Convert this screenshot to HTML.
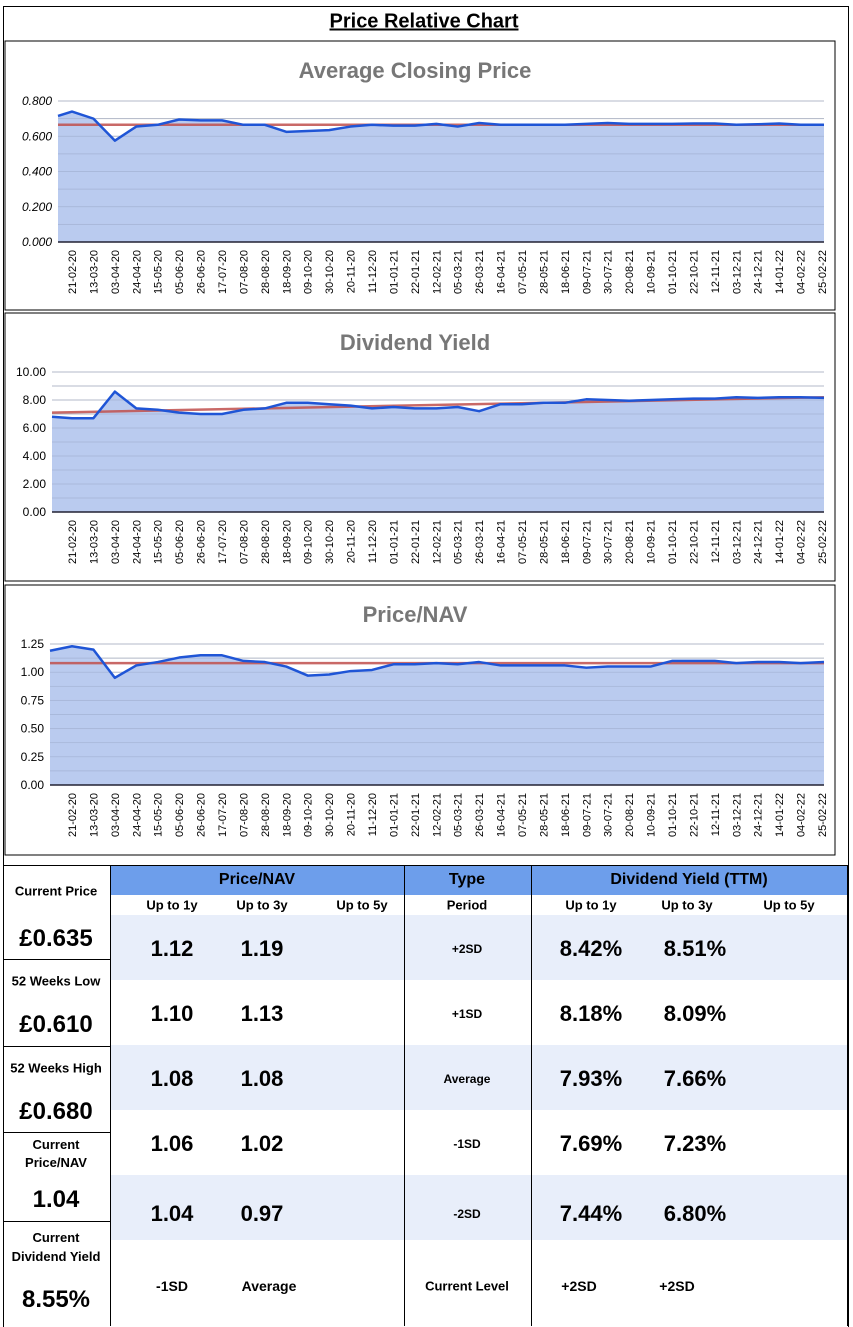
<!DOCTYPE html>
<html><head><meta charset="utf-8">
<style>
body{margin:0;width:853px;height:1327px;position:relative;background:#fff;font-family:"Liberation Sans",sans-serif;overflow:hidden}
.a{position:absolute}
.t{position:absolute;font-weight:bold;color:#000;text-align:center;transform:translate(-50%,-50%);white-space:nowrap}
</style></head><body>
<div class="a" style="left:3px;top:6px;width:844px;height:1320px;border:1px solid #000;border-bottom:none"></div>
<div class="t" style="left:424px;top:22px;font-size:20px;text-decoration:underline">Price Relative Chart</div>
<svg id="charts" class="a" style="left:0;top:0" width="853" height="860"></svg>

<div class="a" style="left:110px;top:866px;width:738px;height:29px;background:#6d9eeb"></div>
<div class="a" style="left:110px;top:915px;width:738px;height:65px;background:#e8eefa"></div>
<div class="a" style="left:110px;top:1045px;width:738px;height:65px;background:#e8eefa"></div>
<div class="a" style="left:110px;top:1175px;width:738px;height:65px;background:#e8eefa"></div>
<div class="a" style="left:3px;top:865px;width:846px;border-top:1px solid #000"></div>
<div class="a" style="left:110px;top:865px;height:461px;border-left:1px solid #000"></div>
<div class="a" style="left:404px;top:865px;height:461px;border-left:1px solid #000"></div>
<div class="a" style="left:531px;top:865px;height:461px;border-left:1px solid #000"></div>
<div class="a" style="left:847px;top:865px;height:461px;border-left:1px solid #000"></div>
<div class="a" style="left:3px;top:959px;width:108px;border-top:1px solid #000"></div>
<div class="a" style="left:3px;top:1046px;width:108px;border-top:1px solid #000"></div>
<div class="a" style="left:3px;top:1132px;width:108px;border-top:1px solid #000"></div>
<div class="a" style="left:3px;top:1221px;width:108px;border-top:1px solid #000"></div>

<div class="t" style="left:56px;top:891px;font-size:13px">Current Price</div>
<div class="t" style="left:56px;top:939px;font-size:24px">£0.635</div>
<div class="t" style="left:56px;top:981px;font-size:13px">52 Weeks Low</div>
<div class="t" style="left:56px;top:1025px;font-size:24px">£0.610</div>
<div class="t" style="left:56px;top:1068px;font-size:13px">52 Weeks High</div>
<div class="t" style="left:56px;top:1112px;font-size:24px">£0.680</div>
<div class="t" style="left:56px;top:1154px;font-size:13px;line-height:18px">Current<br>Price/NAV</div>
<div class="t" style="left:56px;top:1200px;font-size:24px">1.04</div>
<div class="t" style="left:56px;top:1247px;font-size:13px;line-height:19px">Current<br>Dividend Yield</div>
<div class="t" style="left:56px;top:1300px;font-size:24px">8.55%</div>

<div class="t" style="left:257px;top:880px;font-size:16px">Price/NAV</div>
<div class="t" style="left:467px;top:880px;font-size:16px">Type</div>
<div class="t" style="left:689px;top:880px;font-size:16px">Dividend Yield (TTM)</div>
<div id="tbl"></div>
<script>
// ---- chart data ----
const dateLabels=["21-02-20","13-03-20","03-04-20","24-04-20","15-05-20","05-06-20","26-06-20","17-07-20","07-08-20","28-08-20","18-09-20","09-10-20","30-10-20","20-11-20","11-12-20","01-01-21","22-01-21","12-02-21","05-03-21","26-03-21","16-04-21","07-05-21","28-05-21","18-06-21","09-07-21","30-07-21","20-08-21","10-09-21","01-10-21","22-10-21","12-11-21","03-12-21","24-12-21","14-01-22","04-02-22","25-02-22"];
const priceValues=[0.715,0.74,0.70,0.575,0.655,0.665,0.695,0.69,0.69,0.665,0.665,0.625,0.63,0.635,0.655,0.665,0.66,0.66,0.67,0.655,0.675,0.665,0.665,0.665,0.665,0.67,0.675,0.67,0.67,0.67,0.672,0.672,0.665,0.668,0.672,0.665,0.665];
const priceAvg=[0.665,0.665];
const priceTicks=[0,0.2,0.4,0.6,0.8];
const yieldValues=[6.8,6.7,6.7,8.6,7.4,7.3,7.1,7.0,7.0,7.3,7.4,7.8,7.8,7.7,7.6,7.4,7.5,7.4,7.4,7.5,7.2,7.7,7.7,7.8,7.8,8.05,8.0,7.95,8.0,8.05,8.1,8.1,8.2,8.15,8.2,8.2,8.15];
const yieldTrend=[7.1,8.2];
const yieldTicks=[0,2,4,6,8,10];
const pnavValues=[1.19,1.23,1.2,0.95,1.06,1.09,1.13,1.15,1.15,1.1,1.09,1.05,0.97,0.98,1.01,1.02,1.07,1.07,1.08,1.07,1.09,1.06,1.06,1.06,1.06,1.04,1.05,1.05,1.05,1.1,1.1,1.1,1.08,1.09,1.09,1.08,1.09];
const pnavAvg=[1.08,1.08];
const pnavTicks=[0,0.25,0.5,0.75,1.0,1.25];

const svg=document.getElementById('charts');
const NS='http://www.w3.org/2000/svg';
function mk(tag,attrs,parent){const e=document.createElementNS(NS,tag);for(const k in attrs)e.setAttribute(k,attrs[k]);(parent||svg).appendChild(e);return e;}
function drawChart(cfg){
  const g=mk('g',{});
  
  
  const box=mk('rect',{x:cfg.bx,y:cfg.by,width:cfg.bw,height:cfg.bh,fill:'#fff',stroke:'#000','stroke-width':1},g);
  
  
  const title=mk('text',{x:cfg.bx+cfg.bw/2-5,y:cfg.by+37,'text-anchor':'middle','font-size':22,'font-weight':'bold',fill:'#777'},g);
  title.textContent=cfg.title;
  
  
  const max=cfg.ticks[cfg.ticks.length-1];
  const yOf=v=>cfg.bottom-(v/max)*(cfg.bottom-cfg.top);
  const step=(822-72)/(dateLabels.length-1);
  const xOf=i=>Math.max(cfg.left,72+(i-1)*step-(i==0?0:0));
  // minor grid
  const mstep=(cfg.ticks[1]-cfg.ticks[0])/2;
  for(let v=0;v<=max+1e-9;v+=mstep){
    const l=mk('line',{x1:cfg.left,x2:824,y1:yOf(v),y2:yOf(v),stroke:'#c8c8c8','stroke-width':1},g);
    
    
  }
  cfg.ticks.forEach(v=>{
    const t=mk('text',{x:cfg.left-6,y:yOf(v)+4,'text-anchor':'end','font-size':12,'font-style':cfg.italic?'italic':'normal',fill:'#000'},g);
    t.textContent=v.toFixed(cfg.dec);
    
    
  });
  const vals=cfg.values;
  const xs=vals.map((v,i)=>i==0?cfg.left:72+(i-1)*step);
  xs[xs.length-1]=824;
  let pts=vals.map((v,i)=>xs[i]+','+yOf(v)).join(' ');
  const area=mk('polygon',{points:cfg.left+','+yOf(0)+' '+pts+' 824,'+yOf(0),fill:'#b4c7ee',opacity:0.92},g);
  
  
  for(let v=0;v<=max+1e-9;v+=mstep){
    mk('line',{x1:cfg.left,x2:824,y1:yOf(v),y2:yOf(v),stroke:'#9aa8c8','stroke-width':0.7,opacity:0.6},g);
  }
  const avg=mk('line',{x1:cfg.left,x2:824,y1:yOf(cfg.avg[0]),y2:yOf(cfg.avg[1]),stroke:'#c0504d','stroke-width':2.5,opacity:0.85},g);
  
  
  const line=mk('polyline',{points:pts,fill:'none',stroke:'#1f55d6','stroke-width':2.5,'stroke-linejoin':'round'},g);
  
  
  mk('line',{x1:cfg.left,x2:824,y1:yOf(0),y2:yOf(0),stroke:'#223','stroke-width':1.5},g);
  dateLabels.forEach((d,i)=>{
    const x=72+i*step, y=yOf(0)+8;
    const t=mk('text',{x:x+4,y:y,'text-anchor':'end','font-size':11,fill:'#000',transform:'rotate(-90 '+(x+4)+' '+y+')'},g);
    t.textContent=d;
    
    
  });
}
drawChart({name:'avg-closing-price-chart',title:'Average Closing Price',bx:5,by:41,bw:830,bh:269,left:58,top:101,bottom:242,ticks:priceTicks,dec:3,italic:true,values:priceValues,avg:priceAvg});
drawChart({name:'dividend-yield-chart',title:'Dividend Yield',bx:5,by:313,bw:830,bh:268,left:52,top:372,bottom:512,ticks:yieldTicks,dec:2,italic:false,values:yieldValues,avg:yieldTrend});
drawChart({name:'price-nav-chart',title:'Price/NAV',bx:5,by:585,bw:830,bh:270,left:50,top:644,bottom:785,ticks:pnavTicks,dec:2,italic:false,values:pnavValues,avg:pnavAvg});

// ---- table ----
const tbl=document.getElementById('tbl');
function cell(x,y,txt,size,name){
  const d=document.createElement('div');
  d.className='t';
  d.style.left=x+'px';d.style.top=y+'px';d.style.fontSize=size+'px';
  d.textContent=txt;
  
  
  tbl.appendChild(d);
}
[[172,'Up to 1y'],[262,'Up to 3y'],[362,'Up to 5y'],[467,'Period'],[591,'Up to 1y'],[687,'Up to 3y'],[789,'Up to 5y']].forEach(c=>cell(c[0],905,c[1],13,'column-subheader'));
const rowY=[949,1014,1079,1144,1214];
const types=['+2SD','+1SD','Average','-1SD','-2SD'];
const pnav1=['1.12','1.10','1.08','1.06','1.04'],pnav3=['1.19','1.13','1.08','1.02','0.97'];
const dy1=['8.42%','8.18%','7.93%','7.69%','7.44%'],dy3=['8.51%','8.09%','7.66%','7.23%','6.80%'];
rowY.forEach((y,i)=>{
  cell(172,y,pnav1[i],22,'pnav-1y-value');
  cell(262,y,pnav3[i],22,'pnav-3y-value');
  cell(467,y,types[i],12,'period-type');
  cell(591,y,dy1[i],22,'yield-1y-value');
  cell(695,y,dy3[i],22,'yield-3y-value');
});
cell(172,1286,'-1SD',14,'pnav-1y-level');
cell(269,1286,'Average',14,'pnav-3y-level');
cell(467,1286,'Current Level',13,'current-level-label');
cell(579,1286,'+2SD',14,'yield-1y-level');
cell(677,1286,'+2SD',14,'yield-3y-level');
</script>
</body></html>
